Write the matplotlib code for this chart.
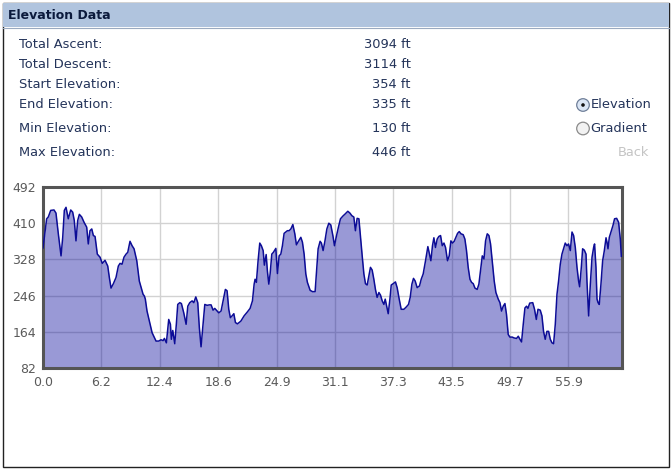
import matplotlib
matplotlib.use("Agg")
import matplotlib.pyplot as plt
from matplotlib.patches import Rectangle, Circle

# ---------------- data ----------------
stat_labels = ["Total Ascent:", "Total Descent:", "Start Elevation:",
               "End Elevation:", "Min Elevation:", "Max Elevation:"]
stat_values = ["3094 ft", "3114 ft", "354 ft", "335 ft", "130 ft", "446 ft"]

y_ticks = [82, 164, 246, 328, 410, 492]
x_ticks = [0.0, 6.2137, 12.4274, 18.6411, 24.8548, 31.0685, 37.2822, 43.4959, 49.7096, 55.9233]
x_tick_labels = ["0.0", "6.2", "12.4", "18.6", "24.9", "31.1", "37.3", "43.5", "49.7", "55.9"]
x_max = 61.62

distance_mi = [
    0.00, 0.39, 0.56, 0.82, 1.17, 1.38, 1.63, 1.92, 2.10, 2.27,
    2.45, 2.69, 2.95, 3.16, 3.33, 3.51, 3.69, 3.87, 4.12, 4.37,
    4.65, 4.82, 5.00, 5.19, 5.36, 5.54, 5.78, 6.07, 6.31, 6.60,
    6.89, 7.06, 7.24, 7.49, 7.77, 8.02, 8.20, 8.41, 8.62, 8.84,
    9.02, 9.26, 9.48, 9.69, 9.98, 10.25, 10.65, 10.79, 10.89, 11.07,
    11.32, 11.61, 11.79, 12.03, 12.32, 12.56, 12.78, 12.92, 13.13, 13.38,
    13.56, 13.66, 13.81, 14.02, 14.19, 14.34, 14.56, 14.73, 14.98, 15.23,
    15.41, 15.62, 15.87, 16.05, 16.26, 16.47, 16.64, 16.82, 17.00, 17.22,
    17.46, 17.71, 17.89, 18.10, 18.28, 18.53, 18.71, 18.95, 19.17, 19.41,
    19.59, 19.77, 19.94, 20.12, 20.31, 20.48, 20.69, 21.05, 21.40, 21.75,
    22.04, 22.29, 22.47, 22.57, 22.71, 22.89, 23.07, 23.24, 23.43, 23.56,
    23.75, 23.88, 24.03, 24.17, 24.35, 24.52, 24.78, 24.95, 25.13, 25.31,
    25.48, 25.66, 25.84, 26.01, 26.19, 26.38, 26.59, 26.80, 26.97, 27.18,
    27.44, 27.61, 27.79, 27.97, 28.14, 28.43, 28.68, 28.96, 29.14, 29.28,
    29.49, 29.63, 29.81, 30.00, 30.21, 30.42, 30.63, 30.85, 31.02, 31.20,
    31.44, 31.66, 31.91, 32.16, 32.44, 32.66, 32.87, 33.08, 33.25, 33.43,
    33.62, 33.79, 33.97, 34.15, 34.32, 34.50, 34.68, 34.85, 35.03, 35.21,
    35.38, 35.56, 35.75, 35.92, 36.10, 36.28, 36.42, 36.55, 36.74, 36.92,
    37.06, 37.27, 37.51, 37.69, 37.91, 38.12, 38.41, 38.65, 38.90, 39.08,
    39.26, 39.43, 39.61, 39.82, 40.07, 40.25, 40.46, 40.71, 40.96, 41.13,
    41.28, 41.45, 41.60, 41.77, 41.95, 42.13, 42.31, 42.49, 42.67, 42.84,
    43.05, 43.23, 43.41, 43.58, 43.76, 43.94, 44.12, 44.30, 44.48, 44.72,
    44.90, 45.07, 45.25, 45.44, 45.61, 45.79, 45.97, 46.21, 46.39, 46.56,
    46.75, 46.93, 47.10, 47.28, 47.46, 47.63, 47.81, 48.02, 48.20, 48.45,
    48.63, 48.80, 48.98, 49.16, 49.33, 49.51, 49.69, 49.94, 50.15, 50.40,
    50.58, 50.76, 50.93, 51.11, 51.29, 51.46, 51.61, 51.80, 52.12, 52.31,
    52.50, 52.68, 52.92, 53.10, 53.27, 53.45, 53.63, 53.81, 53.99, 54.17,
    54.34, 54.52, 54.70, 54.87, 55.05, 55.23, 55.40, 55.58, 55.76, 55.93,
    56.12, 56.30, 56.47, 56.65, 56.83, 57.00, 57.11, 57.29, 57.43, 57.61,
    57.79, 57.89, 58.07, 58.25, 58.43, 58.60, 58.70, 58.85, 58.96, 59.07,
    59.20, 59.38, 59.56, 59.74, 59.92, 60.02, 60.13, 60.27, 60.48, 60.66,
    60.83, 61.05, 61.26, 61.44, 61.55,
]

elevation_ft = [
    354, 420, 424, 439, 440, 433, 386, 336, 378, 439,
    446, 420, 440, 435, 416, 370, 416, 430, 424, 412,
    401, 363, 393, 397, 382, 380, 340, 333, 319, 326,
    313, 287, 263, 273, 287, 313, 319, 317, 333, 340,
    344, 369, 359, 352, 325, 279, 249, 245, 238, 211,
    188, 162, 154, 143, 143, 146, 144, 149, 139, 192,
    181, 147, 167, 137, 181, 226, 230, 228, 207, 181,
    222, 230, 234, 230, 243, 230, 173, 130, 173, 226,
    224, 225, 225, 213, 217, 211, 207, 211, 234, 260,
    257, 215, 196, 200, 205, 185, 182, 188, 200, 209,
    217, 234, 272, 283, 276, 325, 365, 359, 348, 315,
    339, 302, 272, 295, 340, 344, 353, 296, 336, 340,
    359, 387, 390, 393, 393, 397, 407, 386, 361, 369,
    378, 367, 340, 295, 276, 258, 255, 255, 310, 352,
    369, 365, 348, 369, 397, 410, 406, 382, 359, 378,
    401, 420, 426, 431, 437, 433, 427, 424, 393, 421,
    420, 378, 336, 295, 273, 270, 291, 310, 304, 283,
    260, 242, 253, 247, 234, 226, 238, 225, 205, 238,
    270, 273, 277, 264, 238, 215, 215, 220, 226, 242,
    272, 285, 279, 264, 268, 283, 295, 325, 357, 340,
    325, 359, 377, 355, 374, 380, 382, 359, 365, 355,
    325, 336, 370, 365, 369, 378, 387, 391, 386, 384,
    374, 348, 310, 283, 276, 273, 263, 260, 272, 302,
    336, 329, 370, 386, 382, 363, 325, 279, 253, 238,
    230, 211, 222, 228, 203, 158, 152, 152, 150, 149,
    154, 147, 141, 181, 218, 222, 217, 229, 230, 215,
    192, 215, 213, 200, 165, 147, 165, 165, 147, 139,
    137, 181, 249, 279, 317, 340, 352, 365, 359, 363,
    348, 390, 382, 355, 310, 279, 266, 310, 352, 349,
    340, 279, 200, 272, 333, 355, 363, 310, 238, 230,
    226, 272, 325, 348, 377, 367, 352, 378, 393, 405,
    420, 421, 412, 374, 335,
]
assert len(distance_mi) == len(elevation_ft)

# ---------------- figure ----------------
W, H = 672, 470
fig = plt.figure(figsize=(W / 100, H / 100), dpi=100)
fig.patch.set_facecolor("white")

# background / panel layer in pixel coordinates
bg = fig.add_axes([0, 0, 1, 1])
bg.set_xlim(0, W)
bg.set_ylim(H, 0)
bg.axis("off")
bg.add_patch(Rectangle((2.5, 2.5), 666.5, 464.5, fill=False, edgecolor="#222222", lw=1.0))
bg.add_patch(Rectangle((3, 3), 666, 24, facecolor="#B0C4DE", edgecolor="none"))
bg.plot([3, 669], [27.5, 27.5], color="#9aaac0", lw=0.8)
bg.text(8, 15.5, "Elevation Data", fontsize=9.0, fontweight="bold",
        color="#0b1a3c", va="center", ha="left", family="DejaVu Sans")

text_col = "#24345a"
fs = 9.4
row_y = [44, 64, 84, 104, 128, 153]
for lab, val, yy in zip(stat_labels, stat_values, row_y):
    bg.text(19, yy, lab, fontsize=fs, color=text_col, va="center", ha="left")
    bg.text(411, yy, val, fontsize=fs, color=text_col, va="center", ha="right")

# radio buttons
bg.add_patch(Circle((583, 105), 6.3, facecolor="#dbe6f5", edgecolor="#6f7f99", lw=0.9))
bg.add_patch(Circle((583, 105), 1.8, facecolor="#111111", edgecolor="none"))
bg.add_patch(Circle((583, 128.5), 6.3, facecolor="#f2f2f2", edgecolor="#8a8a8a", lw=0.9))
bg.text(590.5, 105, "Elevation", fontsize=fs, color=text_col, va="center", ha="left")
bg.text(590.5, 128.5, "Gradient", fontsize=fs, color=text_col, va="center", ha="left")
bg.text(649, 153, "Back", fontsize=fs, color="#c4c4c4", va="center", ha="right")

# chart
ax_l, ax_t, ax_r, ax_b = 43, 187, 622, 368
ax = fig.add_axes([ax_l / W, 1 - ax_b / H, (ax_r - ax_l) / W, (ax_b - ax_t) / H])
ax.set_xlim(0, x_max)
ax.set_ylim(y_ticks[0], y_ticks[-1])
ax.set_facecolor("white")
ax.grid(True, color="#d2d2d2", lw=1.0, zorder=0)
ax.set_axisbelow(True)
ax.fill_between(distance_mi, elevation_ft, y_ticks[0], color="#000099", alpha=0.4,
                lw=0, zorder=2)
ax.plot(distance_mi, elevation_ft, color="#0c0c96", lw=1.1, zorder=3)
ax.set_xticks(x_ticks)
ax.set_xticklabels(x_tick_labels)
ax.set_yticks(y_ticks)
ax.tick_params(length=0, labelsize=9, labelcolor="#5a5a5a")
ax.tick_params(axis="y", pad=5)
ax.tick_params(axis="x", pad=6)
for s in ax.spines.values():
    s.set_color("#555555")
    s.set_linewidth(2.2)

fig.savefig("out.png", dpi=100, facecolor="white")
